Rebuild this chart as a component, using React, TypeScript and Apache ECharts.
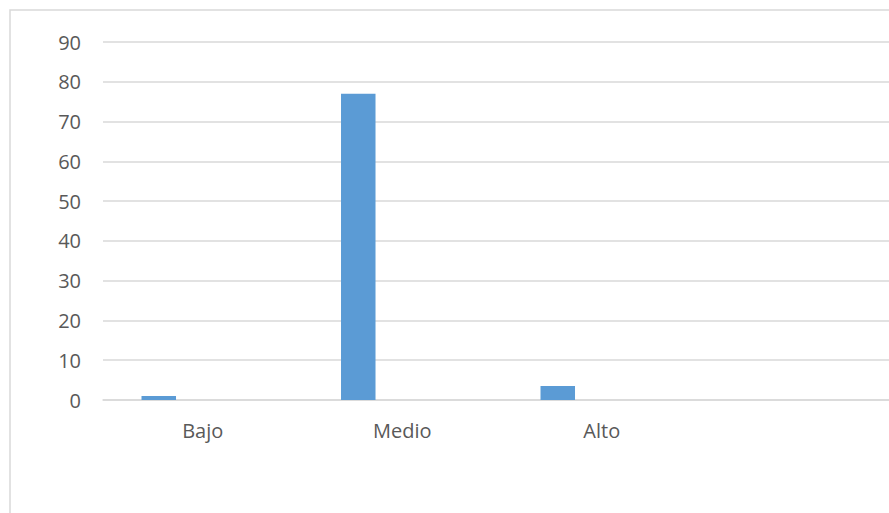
import React, { useEffect, useRef } from "react";
import * as echarts from "echarts";

const categories = ["Bajo", "Medio", "Alto", ""];
const values = [1, 77, 3.5, null];
const emptySeries = [null, null, null, null];
const yTicks = { min: 0, max: 90, interval: 10 };

export default function App() {
  const ref = useRef<HTMLDivElement>(null);
  useEffect(() => {
    if (!ref.current) return;
    const chart = echarts.init(ref.current, undefined, { renderer: "svg" });
    const font = "'Open Sans', sans-serif";
    chart.setOption({
      animation: false,
      backgroundColor: "#ffffff",
      graphic: [
        {
          type: "rect",
          shape: { x: 10, y: 10, width: 920, height: 620 },
          style: { fill: "none", stroke: "#d9d9d9", lineWidth: 1.5 },
          silent: true,
          z: 0,
        },
      ],
      grid: {
        left: 103,
        top: 42,
        width: 798,
        bottom: 113,
        containLabel: false,
        outerBoundsMode: "none",
      },
      xAxis: {
        type: "category",
        data: categories,
        boundaryGap: true,
        axisLine: { show: true, lineStyle: { color: "#d9d9d9", width: 1.5 } },
        axisTick: { show: false },
        axisLabel: { color: "#595959", fontSize: 20, fontFamily: font, margin: 20 },
        splitLine: { show: false },
      },
      yAxis: {
        type: "value",
        min: yTicks.min,
        max: yTicks.max,
        interval: yTicks.interval,
        axisLine: { show: false },
        axisTick: { show: false },
        axisLabel: { color: "#595959", fontSize: 20, fontFamily: font, margin: 22 },
        splitLine: { show: true, lineStyle: { color: "#d9d9d9", width: 1.5 } },
      },
      series: [
        {
          type: "bar",
          data: values,
          barWidth: 34.5,
          barGap: "155%",
          itemStyle: { color: "#5b9bd5" },
        },
        {
          type: "bar",
          data: emptySeries,
          barWidth: 34.5,
          itemStyle: { color: "#ed7d31" },
        },
      ],
    });
    return () => chart.dispose();
  }, []);
  return (
    <div
      ref={ref}
      style={{ position: "fixed", left: 0, top: 0, width: 889, height: 513 }}
    />
  );
}
